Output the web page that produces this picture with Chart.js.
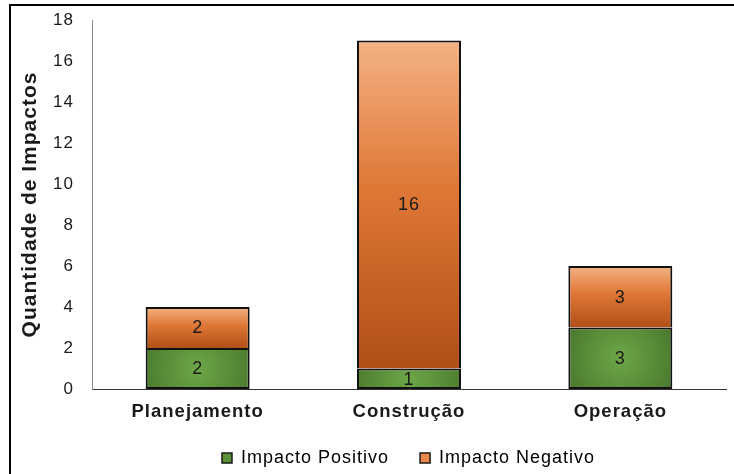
<!DOCTYPE html>
<html>
<head>
<meta charset="utf-8">
<script src="https://cdn.jsdelivr.net/npm/chart.js@4"></script>
<style>
  html, body { margin: 0; padding: 0; background: #fff; overflow: hidden; }
  #wrap { position: relative; width: 734px; height: 474px; }
  #frame { position: absolute; left: 9px; top: 4px; width: 800px; height: 600px;
           border-left: 2px solid #000; border-top: 2px solid #000; pointer-events: none; }
</style>
</head>
<body>
<div id="wrap">
  <canvas id="grafico" width="734" height="474"></canvas>
  <div id="frame"></div>
</div>
<script>
// dados
const fases = ['Planejamento', 'Construção', 'Operação'];
const positivo = [2, 1, 3];
const negativo = [2, 16, 3];
const series = ['Impacto Positivo', 'Impacto Negativo'];
const legendaCores = ['#5B9138', '#E8884B'];

Chart.defaults.font.family = "'Liberation Sans', Arial, sans-serif";
Chart.defaults.color = '#1a1a1a';

// gradiente de cada barra, calculado a partir das escalas
function corBarra(context, tipo) {
  const chart = context.chart;
  const sx = chart.scales.x, sy = chart.scales.y;
  if (context.type !== 'data' || !sx || !sy || !chart.chartArea) {
    return tipo === 'pos' ? legendaCores[0] : legendaCores[1];
  }
  const i = context.dataIndex;
  const base = tipo === 'pos' ? 0 : positivo[i];
  const topo = base + context.raw;
  const y0 = sy.getPixelForValue(topo), y1 = sy.getPixelForValue(base);
  const g = chart.ctx;
  if (tipo === 'neg') {
    const grad = g.createLinearGradient(0, y0, 0, y1);
    grad.addColorStop(0, '#F4B284');
    grad.addColorStop(0.45, '#DF7736');
    grad.addColorStop(1, '#B14F18');
    return grad;
  }
  const cx = sx.getPixelForValue(i), cy = (y0 + y1) / 2;
  const grad = g.createRadialGradient(cx, cy, 0, cx, cy, 58);
  grad.addColorStop(0, '#6DA747');
  grad.addColorStop(1, '#4A792E');
  return grad;
}

const espacamento = {
  id: 'espacamento',
  beforeUpdate(chart) { chart.ctx.letterSpacing = '1px'; },
  afterLayout(chart) {
    if (chart.legend) { chart.legend.left = 191; chart.legend.top = 418; }
  }
};

const rotulos = {
  id: 'rotulos',
  afterDatasetsDraw(chart) {
    const ctx = chart.ctx;
    ctx.save();
    ctx.font = "18px 'Liberation Sans', Arial, sans-serif";
    ctx.fillStyle = '#1a1a1a';
    ctx.textAlign = 'center';
    ctx.textBaseline = 'middle';
    chart.data.datasets.forEach((ds, d) => {
      chart.getDatasetMeta(d).data.forEach((bar, i) => {
        ctx.fillText(String(ds.data[i]), bar.x, (bar.y + bar.base) / 2 + 1);
      });
    });
    ctx.restore();
  }
};

new Chart(document.getElementById('grafico'), {
  type: 'bar',
  data: {
    labels: fases,
    datasets: [
      {
        label: series[0],
        data: positivo,
        backgroundColor: c => corBarra(c, 'pos'),
        borderColor: '#111',
        borderWidth: 2,
        borderSkipped: false,
        barPercentage: 0.492,
        categoryPercentage: 1
      },
      {
        label: series[1],
        data: negativo,
        backgroundColor: c => corBarra(c, 'neg'),
        borderColor: '#111',
        borderWidth: { top: 2, left: 2, right: 2, bottom: 0 },
        borderSkipped: false,
        barPercentage: 0.492,
        categoryPercentage: 1
      }
    ]
  },
  options: {
    responsive: false,
    animation: false,
    layout: { padding: { left: 10, right: 8, top: 20, bottom: -20 } },
    plugins: {
      tooltip: { enabled: false },
      legend: {
        position: 'bottom',
        align: 'start',
        labels: {
          boxWidth: 10,
          boxHeight: 10,
          padding: 31,
          font: { size: 18 },
          generateLabels(chart) {
            return chart.data.datasets.map((ds, i) => ({
              text: ds.label,
              fillStyle: legendaCores[i],
              strokeStyle: '#1a1a1a',
              lineWidth: 1.5,
              datasetIndex: i,
              hidden: false
            }));
          }
        }
      }
    },
    scales: {
      x: {
        stacked: true,
        grid: { display: false, drawTicks: false },
        border: { display: true, color: '#333', width: 1 },
        ticks: { font: { size: 18.5, weight: 'bold' }, padding: 12 },
        afterFit(s) { s.height = 46; }
      },
      y: {
        stacked: true,
        min: 0,
        max: 18,
        grid: { display: false, drawTicks: false },
        border: { display: true, color: '#898989', width: 1 },
        ticks: { stepSize: 2, font: { size: 17 }, padding: 18 },
        title: {
          display: true,
          text: 'Quantidade de Impactos',
          font: { size: 21, weight: 'bold' },
          padding: { top: 8, bottom: 0 }
        },
        afterFit(s) { s.width = 82; s.paddingTop = 0; s.paddingBottom = 0; }
      }
    }
  },
  plugins: [espacamento, rotulos]
});
</script>
</body>
</html>
